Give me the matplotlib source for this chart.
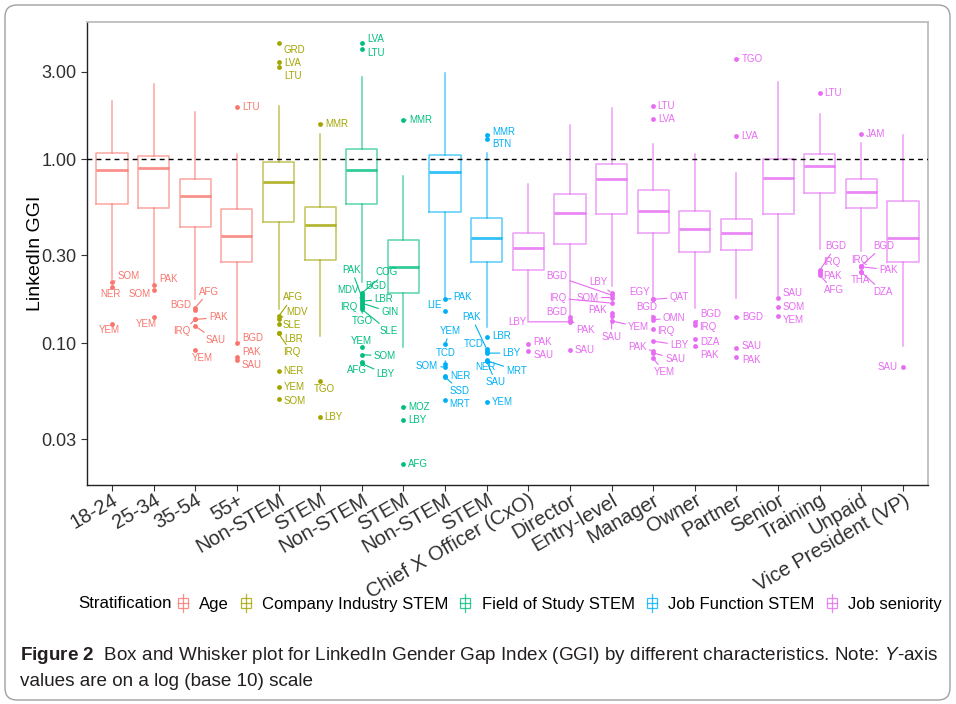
import numpy as np
import matplotlib
matplotlib.use("Agg")
import matplotlib.pyplot as plt
from matplotlib.legend_handler import HandlerBase
from matplotlib.patches import Rectangle, FancyBboxPatch
from matplotlib.lines import Line2D
from matplotlib.ticker import NullLocator, FixedLocator, FixedFormatter
from matplotlib.transforms import IdentityTransform

plt.rcParams['font.family'] = ['Liberation Sans', 'DejaVu Sans']
plt.rcParams['mathtext.fontset'] = 'custom'
plt.rcParams['mathtext.rm'] = 'Liberation Sans'
plt.rcParams['mathtext.it'] = 'Liberation Sans:italic'
plt.rcParams['mathtext.bf'] = 'Liberation Sans:bold'

# ---------------- data ----------------
categories = ["18-24", "25-34", "35-54", "55+", "Non-STEM", "STEM", "Non-STEM", "STEM",
              "Non-STEM", "STEM", "Chief X Officer (CxO)", "Director", "Entry-level",
              "Manager", "Owner", "Partner", "Senior", "Training", "Unpaid",
              "Vice President (VP)"]
groups = (["Age"] * 4 + ["Company Industry STEM"] * 2 + ["Field of Study STEM"] * 2
          + ["Job Function STEM"] * 2 + ["Job seniority"] * 10)
group_order = ["Age", "Company Industry STEM", "Field of Study STEM",
               "Job Function STEM", "Job seniority"]

whisker_low = [0.223, 0.210, 0.173, 0.102, 0.153, 0.1096, 0.2146, 0.0948, 0.176, 0.1227,
               0.130, 0.141, 0.205, 0.1768, 0.156, 0.177, 0.182, 0.327, 0.3175, 0.0967]
q1 = [0.574, 0.546, 0.427, 0.275, 0.456, 0.2826, 0.574, 0.1876, 0.517, 0.275,
      0.250, 0.348, 0.502, 0.396, 0.315, 0.321, 0.502, 0.653, 0.546, 0.275]
median = [0.875, 0.894, 0.632, 0.383, 0.756, 0.438, 0.872, 0.258, 0.853, 0.372,
          0.331, 0.509, 0.786, 0.524, 0.417, 0.399, 0.788, 0.920, 0.662, 0.372]
q3 = [1.087, 1.038, 0.782, 0.535, 0.972, 0.552, 1.143, 0.363, 1.060, 0.482,
      0.396, 0.645, 0.948, 0.678, 0.520, 0.476, 1.000, 1.065, 0.786, 0.593]
whisker_high = [2.07, 2.58, 1.80, 1.074, 1.95, 1.38, 2.81, 0.811, 2.93, 1.087,
                0.731, 1.544, 1.893, 1.217, 1.074, 0.839, 2.64, 1.757, 1.232, 1.355]

outlier_names = [
    ["SOM", "NER", "YEM"],
    ["PAK", "SOM", "YEM"],
    ["AFG", "BGD", "PAK", "IRQ", "SAU", "YEM"],
    ["LTU", "BGD", "PAK", "SAU"],
    ["GRD", "LVA", "LTU", "AFG", "MDV", "SLE", "LBR", "IRQ", "NER", "YEM", "SOM"],
    ["MMR", "TGO", "LBY"],
    ["LVA", "LTU", "COG", "BGD", "PAK", "MDV", "LBR", "GIN", "IRQ", "TGO", "SLE",
     "YEM", "SOM", "AFG", "LBY"],
    ["MMR", "MOZ", "LBY", "AFG"],
    ["PAK", "LIE", "YEM", "TCD", "SOM", "NER", "SSD", "MRT"],
    ["MMR", "BTN", "LBR", "PAK", "TCD", "LBY", "NER", "MRT", "SAU", "YEM"],
    ["PAK", "SAU"],
    ["BGD", "PAK", "LBY", "SAU"],
    ["LBY", "BGD", "SOM", "IRQ", "PAK", "SAU", "YEM"],
    ["LTU", "LVA", "EGY", "QAT", "BGD", "OMN", "IRQ", "LBY", "PAK", "SAU", "YEM"],
    ["BGD", "IRQ", "DZA", "PAK"],
    ["TGO", "LVA", "BGD", "SAU", "PAK"],
    ["SAU", "SOM", "YEM"],
    ["LTU", "BGD", "IRQ", "PAK", "AFG"],
    ["JAM", "IRQ", "BGD", "PAK", "THA", "DZA"],
    ["SAU"],
]
outlier_values = [
    [0.215, 0.203, 0.127],
    [0.207, 0.194, 0.139],
    [0.156, 0.151, 0.1345, 0.1345, 0.1237, 0.092],
    [1.917, 0.100, 0.0836, 0.0805],
    [4.29, 3.40, 3.18, 0.1396, 0.136, 0.127, 0.114, 0.113, 0.0705, 0.0574, 0.0498],
    [1.556, 0.0624, 0.0394],
    [4.27, 3.98, 0.187, 0.1826, 0.178, 0.1736, 0.169, 0.165, 0.161, 0.157, 0.153,
     0.095, 0.0864, 0.0785, 0.0775],
    [1.635, 0.045, 0.0382, 0.022],
    [0.173, 0.1487, 0.0988, 0.0769, 0.0741, 0.0662, 0.0655, 0.0492],
    [1.355, 1.284, 0.108, 0.0927, 0.0905, 0.0882, 0.0809, 0.0803, 0.0796, 0.048],
    [0.0988, 0.0902],
    [0.138, 0.1334, 0.1305, 0.0916],
    [0.187, 0.1824, 0.177, 0.165, 0.145, 0.141, 0.132],
    [1.949, 1.65, 0.174, 0.173, 0.138, 0.134, 0.119, 0.1025, 0.0907, 0.0884, 0.0826],
    [0.1305, 0.125, 0.105, 0.0967],
    [3.53, 1.339, 0.138, 0.0936, 0.0842],
    [0.177, 0.1575, 0.1407],
    [2.284, 0.249, 0.245, 0.240, 0.234],
    [1.38, 0.264, 0.2635, 0.26, 0.245, 0.243],
    [0.0738],
]

# label placement (pixel offsets from the point, x right / y down) - layout only
label_offsets = [
    [(17, -6), (-2, 7), (-3, 6)],
    [(15, -6), (-14, 4), (-7, 7)],
    [(14, -16), (-14, -5), (23, -2), (-13, 12), (20, 14), (7, 8)],
    [(14, 0), (16, -5), (15, -5), (15, 5)],
    [(16, 7), (14, 1), (14, 9), (14, -19), (18, -7), (13, 1), (15, 6), (13, 19),
     (15, 0), (16, 0), (16, 2)],
    [(17, 0), (4, 8), (13, 0)],
    [(14, -4), (14, 4), (25, -21), (14, -9), (-10, -27), (-14, -9), (22, -2), (28, 9),
     (-13, 2), (1, 14), (27, 22), (0, -6), (23, 1), (-5, 8), (24, 11)],
    [(17, 0), (16, 0), (14, 0), (15, 0)],
    [(18, -2), (-11, -6), (5, -13), (1, -11), (-18, -1), (15, 0), (15, 14), (15, 4)],
    [(17, -3), (15, 5), (15, -1), (-15, -32), (-13, -7), (25, 0), (-1, 7), (30, 10),
     (9, 21), (16, 0)],
    [(14, -2), (15, 4)],
    [(-13, -5), (16, 10), (-53, 0), (15, 0)],
    [(-13, -11), (-55, -19), (-24, 0), (-54, -5), (-14, -3), (0, 21), (27, 6)],
    [(13, 0), (13, 0), (-14, -7), (26, -2), (-6, -10), (21, -2), (13, 2), (26, 4),
     (-16, -4), (22, 6), (11, 14)],
    [(16, -8), (13, 2), (15, 3), (15, 9)],
    [(16, 0), (13, 0), (16, 0), (15, -2), (15, 3)],
    [(14, -5), (16, 0), (15, 4)],
    [(13, 0), (16, -24), (12, -10), (13, 3), (14, 15)],
    [(14, 0), (-2, -6), (22, -20), (27, 3), (-1, 8), (22, 20)],
    [(-15, 0)],
]

group_colors = {"Age": "#F8766D", "Company Industry STEM": "#A3A500",
                "Field of Study STEM": "#00BF7D", "Job Function STEM": "#00B0F6",
                "Job seniority": "#E76BF3"}

# ---------------- figure ----------------
W, H = 956, 704
fig = plt.figure(figsize=(W / 100, H / 100), dpi=100)
fig.patch.set_facecolor("white")
ax = fig.add_axes([87 / W, 1 - 485 / H, (928 - 87) / W, (485 - 22) / H])
ax.set_yscale("log")

positions = np.arange(1, len(categories) + 1)
for i, p in enumerate(positions):
    c = group_colors[groups[i]]
    st = dict(med=median[i], q1=q1[i], q3=q3[i], whislo=whisker_low[i],
              whishi=whisker_high[i], fliers=[])
    ax.bxp([st], positions=[p], widths=0.75, showfliers=False, showcaps=False,
           boxprops=dict(color=c, lw=1.1, alpha=0.65),
           whiskerprops=dict(color=c, lw=1.1, alpha=0.65),
           medianprops=dict(color=c, lw=2.0, alpha=0.8))

ax.axhline(1.0, color="black", ls=(0, (3.5, 3)), lw=1.0, zorder=4)

for i, p in enumerate(positions):
    c = group_colors[groups[i]]
    vals = outlier_values[i]
    ax.scatter([p] * len(vals), vals, s=12, color=c, zorder=5, linewidths=0)
    for name, v, (dx, dy) in zip(outlier_names[i], vals, label_offsets[i]):
        hw = len(name) * 3.6
        hh = 4.5
        gap = np.hypot(max(abs(dx) - hw, 0), max(abs(dy) - hh, 0))
        arrow = None
        if gap > 5:
            arrow = dict(arrowstyle="-", color=c, lw=0.8, shrinkA=0, shrinkB=1.5)
        ax.annotate(name, xy=(p, v), xytext=(dx, -dy), textcoords="offset pixels",
                    ha="center", va="center", fontsize=7, color=c,
                    arrowprops=arrow, zorder=6)

# limits with ggplot-like expansion
all_vals = np.concatenate([np.array(whisker_low), np.array(whisker_high)]
                          + [np.array(v) for v in outlier_values])
lo, hi = np.log10(all_vals.min()), np.log10(all_vals.max())
pad = 0.05 * (hi - lo)
ax.set_ylim(10 ** (lo - pad), 10 ** (hi + pad))
ax.set_xlim(0.4, len(categories) + 0.6)

yt = [0.03, 0.1, 0.3, 1.0, 3.0]
ax.yaxis.set_major_locator(FixedLocator(yt))
ax.yaxis.set_major_formatter(FixedFormatter(["0.03", "0.10", "0.30", "1.00", "3.00"]))
ax.yaxis.set_minor_locator(NullLocator())
ax.set_xticks(positions)
ax.set_xticklabels(categories, rotation=30, ha="right", va="top",
                   rotation_mode="anchor", fontsize=14.5, color="#303030")
ax.tick_params(axis="y", labelsize=13, labelcolor="#303030", length=4, width=0.8,
               color="#333333")
ax.tick_params(axis="x", length=4, width=0.8, color="#333333", pad=0)
ax.set_ylabel("LinkedIn GGI", fontsize=14, color="black", labelpad=-2)

for s in ["top", "right"]:
    ax.spines[s].set_color("#BDBDBD")
    ax.spines[s].set_linewidth(1.3)
for s in ["left", "bottom"]:
    ax.spines[s].set_color("#222222")
    ax.spines[s].set_linewidth(1.0)
ax.set_facecolor("white")


# ---------------- legend ----------------
class BoxKey(HandlerBase):
    def create_artists(self, legend, orig_handle, xdescent, ydescent, width, height,
                       fontsize, trans):
        c = orig_handle.get_edgecolor()
        cx = -xdescent + width / 2
        cy = -ydescent + height / 2
        bw = width * 0.75
        bh = height * 0.7
        arts = [
            Rectangle((cx - bw / 2, cy - bh / 2), bw, bh, facecolor="none",
                      edgecolor=c, lw=0.9, transform=trans, alpha=0.8),
            Line2D([cx - bw / 2, cx + bw / 2], [cy, cy], color=c, lw=0.9,
                   transform=trans, alpha=0.8),
            Line2D([cx, cx], [cy - bh / 2 - 3, cy + bh / 2 + 3], color=c, lw=0.9,
                   transform=trans, alpha=0.8),
        ]
        return arts


handles = [Rectangle((0, 0), 1, 1, facecolor="none", edgecolor=group_colors[g])
           for g in group_order]
fig.text(78 / W, 1 - 604 / H, "Stratification", fontsize=12.2, va="center",
         ha="left", color="black")
fig.legend(handles, group_order, handler_map={Rectangle: BoxKey()},
           loc="center left", bbox_to_anchor=(176 / W, 1 - 604 / H), ncol=5,
           frameon=False, fontsize=12, handlelength=0.8, handleheight=0.9,
           handletextpad=0.6, columnspacing=0.6, borderpad=0, borderaxespad=0)

# ---------------- caption & frame ----------------
fig.text(20 / W, 1 - 655 / H,
         r"$\mathbf{Figure\ 2}$  Box and Whisker plot for LinkedIn Gender Gap Index (GGI) "
         r"by different characteristics. Note: $\mathit{Y}$-axis",
         fontsize=13.6, va="center", ha="left", color="#231F20")
fig.text(20 / W, 1 - 681 / H, "values are on a log (base 10) scale",
         fontsize=13.6, va="center", ha="left", color="#231F20")

frame = FancyBboxPatch((5, 4), 945, 695, boxstyle="round,pad=0,rounding_size=12",
                       transform=IdentityTransform(), fill=False,
                       edgecolor="#A0A0A0", lw=1.0)
fig.patches.append(frame)

fig.savefig("out.png", dpi=100, facecolor="white")
